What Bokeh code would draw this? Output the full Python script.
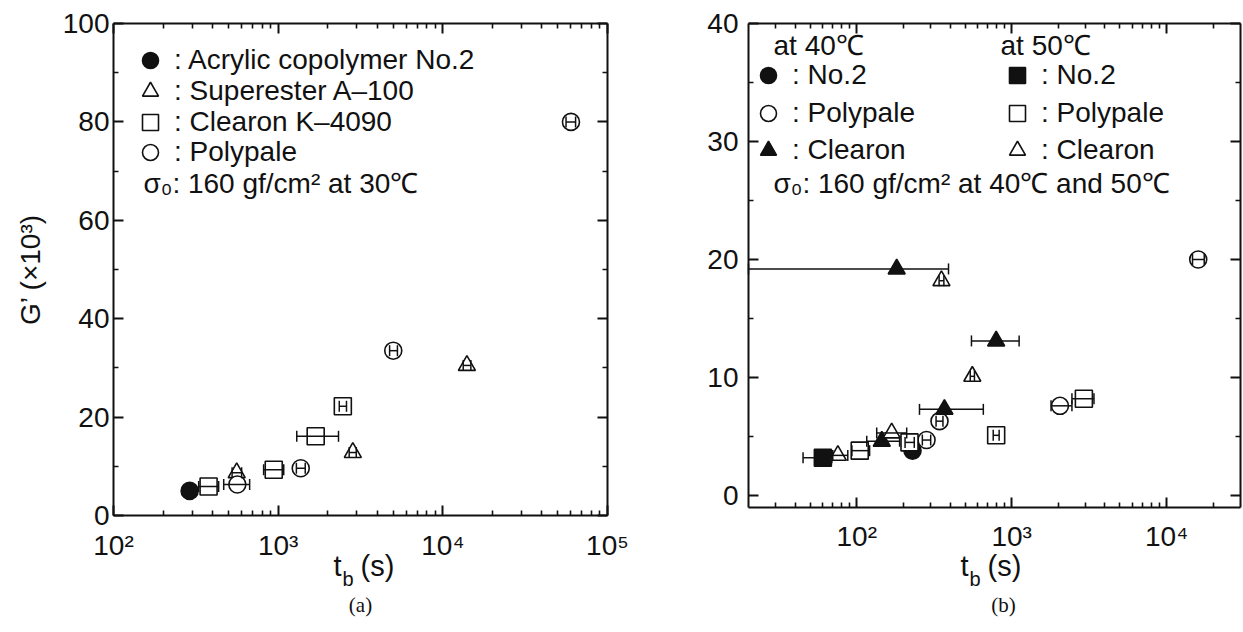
import math

from bokeh.plotting import figure
from bokeh.models import (ColumnDataSource, Whisker, TeeHead, Legend, LegendItem, Label,
                          LogAxis, LinearAxis, FixedTicker, CustomJSTickFormatter, Range1d)
from bokeh.layouts import row
from bokeh.embed import file_html
from bokeh.resources import INLINE

FONT = "Liberation Sans"
INK = "#111111"
H = 632

# ---------------- (a) storage modulus vs. failure time, 30 °C ----------------
a_acrylic_t = [290]
a_acrylic_g = [5.0]

a_superester_t = [560, 2840, 14000]
a_superester_g = [8.7, 12.8, 30.5]
a_superester_lo = [525, 2700, 13300]
a_superester_hi = [600, 2980, 14800]

a_clearon_t = [378, 940, 1690, 2470]
a_clearon_g = [5.9, 9.3, 16.1, 22.2]
a_clearon_lo = [329, 816, 1297, 2350]
a_clearon_hi = [435, 1081, 2325, 2600]

a_polypale_t = [565, 1371, 5000, 60000]
a_polypale_g = [6.3, 9.6, 33.5, 80.0]
a_polypale_lo = [467, 1290, 4750, 56000]
a_polypale_hi = [671, 1460, 5300, 64000]

# ---------------- (b) 40 °C and 50 °C ----------------
b_no2_40_t = [229]
b_no2_40_g = [3.8]

b_polypale_40_t = [282, 342, 2050, 16000]
b_polypale_40_g = [4.7, 6.3, 7.6, 20.0]
b_polypale_40_lo = [265, 325, 1795, 14700]
b_polypale_40_hi = [300, 360, 2449, 17500]

b_clearon_40_t = [145, 181, 368, 794]
b_clearon_40_g = [4.6, 19.2, 7.3, 13.1]
b_clearon_40_lo = [116, 20, 254, 550]
b_clearon_40_hi = [189, 391, 656, 1117]

b_no2_50_t = [60.4]
b_no2_50_g = [3.2]
b_no2_50_lo = [45]
b_no2_50_hi = [69]

b_polypale_50_t = [104.5, 219, 794, 2925]
b_polypale_50_g = [3.8, 4.5, 5.1, 8.2]
b_polypale_50_lo = [93, 205, 760, 2449]
b_polypale_50_hi = [121, 235, 830, 3398]

b_clearon_50_t = [75.5, 168, 352, 557]
b_clearon_50_g = [3.4, 5.3, 18.2, 10.1]
b_clearon_50_lo = [70, 134.5, 340, 540]
b_clearon_50_hi = [87.5, 210, 365, 575]

# axis ticks
a_x_major = [1e2, 1e3, 1e4, 1e5]
b_x_major = [1e2, 1e3, 1e4]
a_y_major = [0, 20, 40, 60, 80, 100]
a_y_minor = [10, 30, 50, 70, 90]
b_y_major = [0, 10, 20, 30, 40]
b_y_minor = [5, 15, 25, 35]

POW10 = CustomJSTickFormatter(code="""
const sup = {"0":"\u2070","1":"\u00b9","2":"\u00b2","3":"\u00b3","4":"\u2074","5":"\u2075"};
const e = Math.round(Math.log10(tick));
return "10" + String(e).split("").map(c => sup[c]).join("");
""")
BLANK = CustomJSTickFormatter(code="return '';")


def log_minor(lo, hi):
    out = []
    e = 1
    while 10 ** e <= hi:
        for k in range(2, 10):
            v = k * 10 ** e
            if lo < v < hi:
                out.append(v)
        e += 1
    return out


def style_axis(ax, labels=True):
    ax.axis_line_color = INK
    ax.axis_line_width = 2
    ax.major_tick_line_color = INK
    ax.major_tick_line_width = 2
    ax.minor_tick_line_color = INK
    ax.minor_tick_line_width = 1.6
    ax.major_tick_in = 10
    ax.major_tick_out = 0
    ax.minor_tick_in = 5
    ax.minor_tick_out = 0
    ax.major_label_text_font = FONT
    ax.major_label_text_color = INK
    ax.major_label_text_font_size = "28px"
    if not labels:
        ax.formatter = BLANK
        ax.major_label_standoff = 0


def make_panel(width, xbox, px_left, px_right, y_top, y_floor, px_top, px_zero,
               xt, yt, yminor, ylabel_standoff):
    # The plotting frame fills the whole canvas; the boxed axes are pinned to
    # the data limits with fixed_location/bounds so that tick labels, axis
    # titles and captions around the box all sit inside the frame.
    lx0, lx1 = math.log10(xbox[0]), math.log10(xbox[1])
    dec = (px_right - px_left) / (lx1 - lx0)
    x_rng = (10 ** (lx0 - px_left / dec), 10 ** (lx1 + (width - px_right) / dec))
    scale = (px_zero - px_top) / y_top
    y_rng = (-(H - px_zero) / scale, y_top + px_top / scale)

    p = figure(width=width, height=H, x_axis_type="log",
               x_range=Range1d(*x_rng), y_range=Range1d(*y_rng),
               output_backend="svg", toolbar_location=None, min_border=0)
    p.grid.visible = False
    p.outline_line_color = None
    p.background_fill_color = "white"
    p.border_fill_color = "white"

    xticker = FixedTicker(ticks=xt, minor_ticks=log_minor(*xbox))
    yticker = FixedTicker(ticks=yt, minor_ticks=yminor)

    bottom = p.xaxis[0]
    left = p.yaxis[0]
    bottom.ticker = xticker
    bottom.formatter = POW10
    bottom.fixed_location = y_floor
    bottom.bounds = xbox
    left.ticker = yticker
    left.fixed_location = xbox[0]
    left.bounds = (y_floor, y_top)
    style_axis(bottom)
    style_axis(left)
    bottom.major_label_standoff = 14
    left.major_label_standoff = ylabel_standoff

    top_ax = LogAxis(ticker=xticker, fixed_location=y_top, bounds=xbox)
    right_ax = LinearAxis(ticker=yticker, fixed_location=xbox[1], bounds=(y_floor, y_top))
    style_axis(top_ax, labels=False)
    style_axis(right_ax, labels=False)
    p.add_layout(top_ax, "above")
    p.add_layout(right_ax, "right")
    return p


def series(p, t, g, marker, filled, lo=None, hi=None, size=17):
    src = ColumnDataSource(dict(t=t, g=g))
    r = p.scatter("t", "g", source=src, marker=marker, size=size,
                  fill_color=INK if filled else "white",
                  line_color=INK, line_width=1.6)
    if lo is not None:
        esrc = ColumnDataSource(dict(g=g, lo=lo, hi=hi))
        w = Whisker(source=esrc, base="g", lower="lo", upper="hi", dimension="width",
                    line_color=INK, line_width=1.5, level="overlay",
                    upper_head=TeeHead(size=11, line_color=INK, line_width=1.5),
                    lower_head=TeeHead(size=11, line_color=INK, line_width=1.5))
        p.add_layout(w)
    return r


def text(p, s, x, y_from_top, size="28px", font=FONT, align="left", angle=0.0):
    # x from the canvas' left edge, y measured down from its top
    p.add_layout(Label(x=x, y=H - y_from_top, x_units="screen", y_units="screen", text=s,
                       text_font=font, text_font_size=size, text_color=INK,
                       text_align=align, text_baseline="middle", angle=angle))


def key(p, renderer, label, x, y_from_top):
    leg = Legend(items=[LegendItem(label=label, renderers=[renderer])],
                 location=(x, H - y_from_top - 20), margin=0, padding=0,
                 glyph_width=40, glyph_height=40, label_standoff=4,
                 label_text_font=FONT, label_text_font_size="28px",
                 label_text_color=INK, border_line_alpha=0, background_fill_alpha=0)
    p.add_layout(leg)


def t_b_label(p, xt, caption, cap_x):
    text(p, "t", xt, 565, size="29px")
    text(p, "b", xt + 9, 578, size="20px")
    text(p, "(s)", xt + 27, 565, size="29px")
    text(p, caption, cap_x, 604, size="21px", font="Liberation Serif", align="center")


# ---------------- panel (a) ----------------
pa = make_panel(640, (1e2, 1e5), 113, 607, 100, 0, 23, 515,
                a_x_major, a_y_major, a_y_minor, 4)
text(pa, "G\u2019 (\u00d710\u00b3)", 30, 269, size="28px", align="center", angle=math.pi / 2)

r_acr = series(pa, a_acrylic_t, a_acrylic_g, "circle", True)
r_sup = series(pa, a_superester_t, a_superester_g, "triangle", False, a_superester_lo, a_superester_hi)
r_cle = series(pa, a_clearon_t, a_clearon_g, "square", False, a_clearon_lo, a_clearon_hi)
r_pol = series(pa, a_polypale_t, a_polypale_g, "circle", False, a_polypale_lo, a_polypale_hi)

key(pa, r_acr, ": Acrylic copolymer No.2", 130, 60)
key(pa, r_sup, ": Superester A\u2013100", 130, 91)
key(pa, r_cle, ": Clearon K\u20134090", 130, 122)
key(pa, r_pol, ": Polypale", 130, 152)
text(pa, "\u03c3\u2080: 160 gf/cm\u00b2 at 30\u2103", 143, 183)
t_b_label(pa, 333, "(a)", 360)

# ---------------- panel (b) ----------------
pb = make_panel(603, (20, 3e4), 108, 600, 40, -1, 23, 495,
                b_x_major, b_y_major, b_y_minor, 10)

r_n40 = series(pb, b_no2_40_t, b_no2_40_g, "circle", True)
r_p40 = series(pb, b_polypale_40_t, b_polypale_40_g, "circle", False, b_polypale_40_lo, b_polypale_40_hi)
r_c40 = series(pb, b_clearon_40_t, b_clearon_40_g, "triangle", True, b_clearon_40_lo, b_clearon_40_hi)
r_n50 = series(pb, b_no2_50_t, b_no2_50_g, "square", True, b_no2_50_lo, b_no2_50_hi)
r_p50 = series(pb, b_polypale_50_t, b_polypale_50_g, "square", False, b_polypale_50_lo, b_polypale_50_hi)
r_c50 = series(pb, b_clearon_50_t, b_clearon_50_g, "triangle", False, b_clearon_50_lo, b_clearon_50_hi)

text(pb, "at 40\u2103", 133, 45)
text(pb, "at 50\u2103", 360, 45)
key(pb, r_n40, ": No.2", 108, 75)
key(pb, r_p40, ": Polypale", 108, 113)
key(pb, r_c40, ": Clearon", 108, 150)
key(pb, r_n50, ": No.2", 357, 75)
key(pb, r_p50, ": Polypale", 357, 113)
key(pb, r_c50, ": Clearon", 357, 150)
text(pb, "\u03c3\u2080: 160 gf/cm\u00b2 at 40\u2103 and 50\u2103", 133, 183)
t_b_label(pb, 320, "(b)", 363)

layout = row(pa, pb, spacing=0)
open("out.html", "w").write(file_html(layout, INLINE))
